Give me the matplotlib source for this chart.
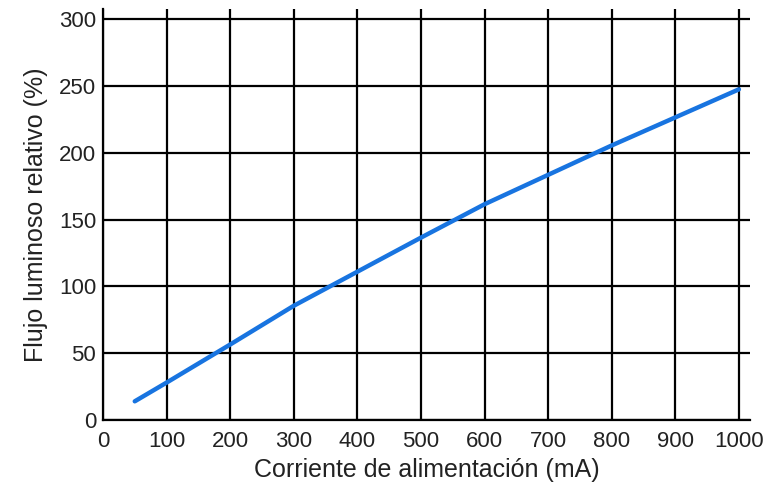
import matplotlib.pyplot as plt

# corriente (mA) vs flujo luminoso relativo (%)
corriente = [50, 100, 200, 300, 400, 500, 600, 700, 800, 900, 1000]
flujo = [14, 28, 56.5, 85.5, 111, 136.5, 161.5, 183.5, 205.5, 226.5, 247.5]

x_ticks = list(range(0, 1001, 100))
y_ticks = list(range(0, 301, 50))

plt.rcParams["font.family"] = ["Liberation Sans", "DejaVu Sans"]

fig = plt.figure(figsize=(7.65, 4.83), dpi=100)
ax = fig.add_axes([0.1346, 0.1304, 0.8454, 0.8506])

ax.plot(corriente, flujo, color="#1874e0", linewidth=3.2, solid_capstyle="round", zorder=3)

ax.set_xlim(0, 1017)
ax.set_ylim(0, 307.5)
ax.set_xticks(x_ticks)
ax.set_yticks(y_ticks)
ax.grid(True, color="black", linewidth=1.6)
ax.set_axisbelow(True)

for side in ["top", "right"]:
    ax.spines[side].set_visible(False)
for side in ["left", "bottom"]:
    ax.spines[side].set_linewidth(1.6)
    ax.spines[side].set_color("black")

ax.tick_params(axis="both", length=0, labelsize=16, colors="#222222")
ax.tick_params(axis="x", pad=8)
ax.tick_params(axis="y", pad=5)

ax.set_xlabel("Corriente de alimentación (mA)", fontsize=18, color="#222222", labelpad=4)
ax.set_ylabel("Flujo luminoso relativo (%)", fontsize=18, color="#222222", labelpad=8)

fig.savefig("out.png", dpi=100)
plt.close(fig)
